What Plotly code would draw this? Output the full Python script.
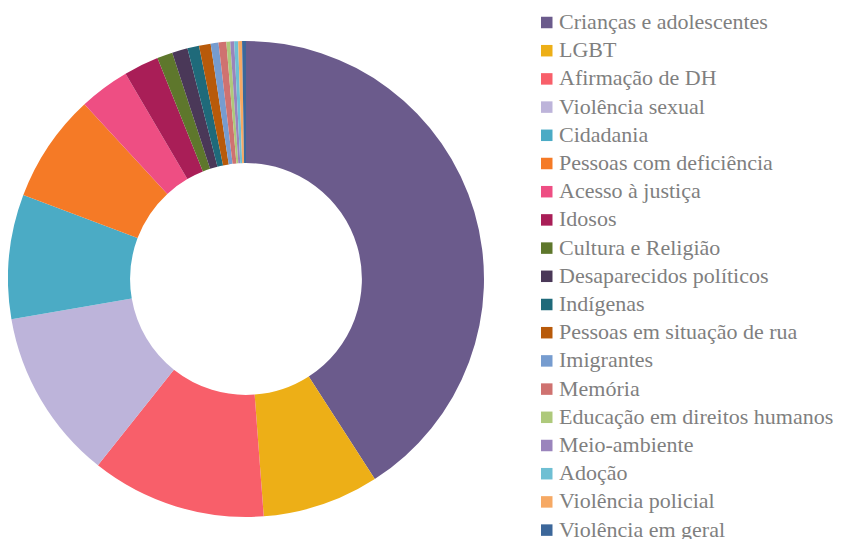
import plotly.graph_objects as go

categories = [
    "Crianças e adolescentes", "LGBT", "Afirmação de DH", "Violência sexual",
    "Cidadania", "Pessoas com deficiência", "Acesso à justiça", "Idosos",
    "Cultura e Religião", "Desaparecidos políticos", "Indígenas",
    "Pessoas em situação de rua", "Imigrantes", "Memória",
    "Educação em direitos humanos", "Meio-ambiente", "Adoção",
    "Violência policial", "Violência em geral",
]
values = [155, 30, 45, 44, 32, 28, 13, 9, 4, 4, 3, 3, 2, 2, 1, 1, 1, 1, 1]
colors = [
    "#6B5B8C", "#EDAF17", "#F85F6A", "#BDB4DA", "#4BABC5", "#F57A26",
    "#EE4E83", "#A91E57", "#5E772C", "#4A3858", "#1F6A7A", "#B85A0A",
    "#769CCF", "#CF7270", "#AEC97B", "#9A84BC", "#6FBFD3", "#F6A964",
    "#3C679A",
]

W, H = 848, 539
off = 8  # page body margin
cx, cy, r = 246 - off, 279 - off, 238

fig = go.Figure(go.Pie(
    labels=categories,
    values=values,
    marker=dict(colors=colors, line=dict(width=0)),
    hole=0.487,
    sort=False,
    direction="clockwise",
    rotation=0,
    textinfo="none",
    hoverinfo="label+value+percent",
    showlegend=False,
    domain=dict(x=[max(0, (cx - r) / W), (cx + r) / W],
                y=[1 - (cy + r) / H, 1 - (cy - r) / H]),
))

# custom legend (swatch + label per category)
row0, step = 22.5 - off, 28.2
sw = 11.5
sx, tx = 541 - off, 557 - off
shapes, annotations = [], []
for i, (lab, col) in enumerate(zip(categories, colors)):
    yc = row0 + i * step
    shapes.append(dict(
        type="rect", xref="paper", yref="paper",
        x0=sx / W, x1=(sx + sw) / W,
        y0=1 - (yc + sw / 2) / H, y1=1 - (yc - sw / 2) / H,
        fillcolor=col, line=dict(width=0),
    ))
    annotations.append(dict(
        text=lab, xref="paper", yref="paper",
        x=tx / W, xanchor="left",
        y=1 - (yc - 1) / H, yanchor="middle",
        showarrow=False,
        font=dict(family="Liberation Serif, DejaVu Serif, serif", size=22, color="#7F7F7F"),
    ))

fig.update_layout(
    width=W, height=H,
    margin=dict(l=0, r=0, t=0, b=0),
    paper_bgcolor="white",
    plot_bgcolor="white",
    showlegend=False,
    shapes=shapes,
    annotations=annotations,
)

fig.write_html("out.html")
